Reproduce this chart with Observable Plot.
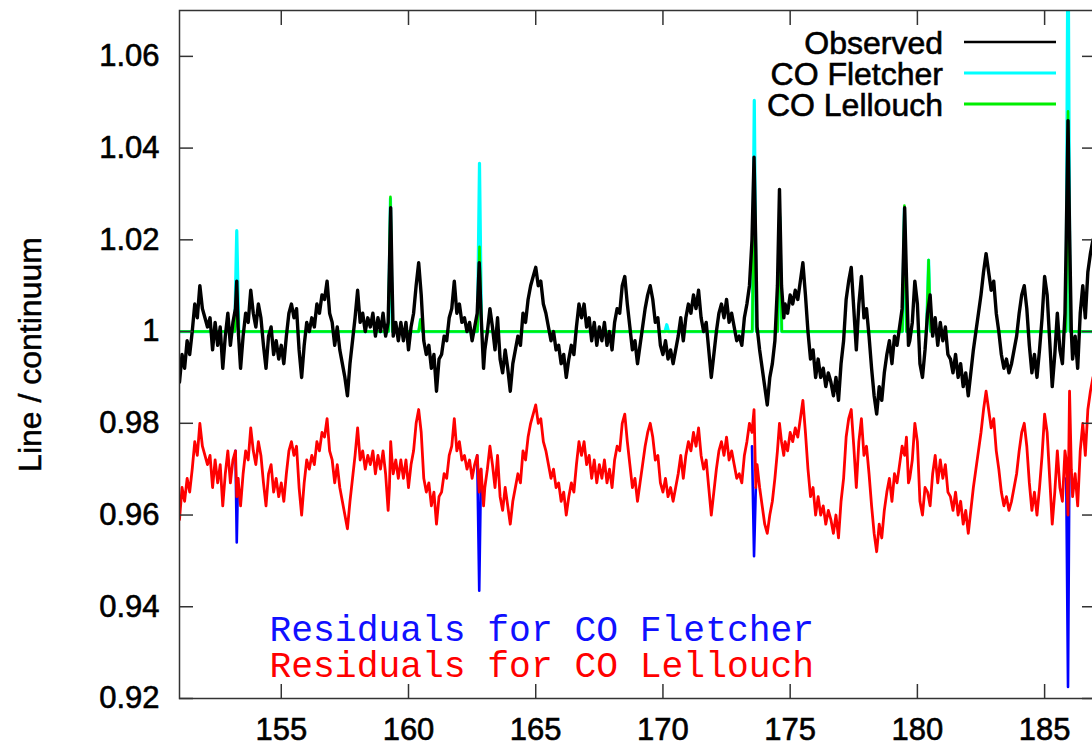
<!DOCTYPE html>
<html>
<head>
<meta charset="utf-8">
<script src="https://cdn.jsdelivr.net/npm/d3@7"></script>
<script src="https://cdn.jsdelivr.net/npm/@observablehq/plot@0.6"></script>
<style>
  body { margin: 0; background: #fff; }
  #chart { width: 1092px; height: 744px; overflow: hidden; }
  #chart g[aria-label$="tick label"] text { stroke: #000; stroke-width: 0.6px; }
</style>
</head>
<body>
<div id="chart"></div>
<script>
// ---- Data (wavenumber, value) ----
const observed = [
[151.0,.989],[151.1,.995],[151.2,.992],[151.3,.998],[151.4,.995],[151.5,1.000],[151.6,1.006],[151.7,1.003],[151.8,1.010],[151.9,1.005],
[152.0,1.003],[152.1,1.001],[152.2,1.003],[152.3,.996],[152.4,1.002],[152.5,.997],[152.6,1.001],[152.7,.992],[152.8,.999],[152.9,1.004],
[153.0,.997],[153.1,1.002],[153.2,1.005],[153.25,1.011],[153.3,1.001],[153.4,.992],[153.5,.999],[153.6,1.004],[153.7,1.002],[153.8,1.009],[153.9,1.004],
[154.0,1.001],[154.1,1.006],[154.2,1.003],[154.3,.997],[154.4,.992],[154.5,.999],[154.6,1.001],[154.7,.995],[154.8,.998],[154.9,.994],
[155.0,.997],[155.1,.993],[155.2,.999],[155.3,1.004],[155.4,1.006],[155.5,1.003],[155.6,1.005],[155.7,.996],[155.8,.990],[155.9,.997],
[156.0,1.002],[156.1,1.000],[156.2,1.003],[156.3,1.001],[156.4,1.006],[156.5,1.004],[156.6,1.008],[156.7,1.007],[156.8,1.011],[156.9,1.004],
[157.0,1.002],[157.1,.997],[157.2,1.001],[157.3,.996],[157.4,.993],[157.5,.990],[157.6,.986],[157.7,.993],[157.8,.998],[157.9,1.003],
[158.0,1.009],[158.1,1.002],[158.2,1.004],[158.3,1.000],[158.4,1.003],[158.5,1.001],[158.6,1.004],[158.7,.999],[158.8,1.003],[158.9,1.000],
[159.0,1.004],[159.1,.999],[159.2,1.002],[159.25,1.014],[159.3,1.027],[159.35,1.012],[159.4,.999],[159.5,1.002],[159.6,.998],[159.7,1.002],[159.8,.998],[159.9,1.002],
[160.0,.996],[160.1,1.001],[160.2,1.004],[160.3,1.010],[160.4,1.015],[160.5,1.008],[160.6,.998],[160.7,.995],[160.8,.997],[160.9,.992],
[161.0,.995],[161.1,.987],[161.2,.994],[161.3,.995],[161.4,.999],[161.5,.998],[161.6,1.003],[161.7,1.005],[161.8,1.011],[161.9,1.004],
[162.0,1.006],[162.1,1.002],[162.2,1.003],[162.3,1.000],[162.4,1.002],[162.5,.998],[162.6,1.001],[162.7,1.004],[162.78,1.015],[162.85,1.004],[162.95,.992],
[163.0,.996],[163.1,1.000],[163.2,1.005],[163.3,1.001],[163.4,.996],[163.5,1.003],[163.6,.994],[163.7,.991],[163.8,.996],[163.9,.992],
[164.0,.987],[164.1,.993],[164.2,.996],[164.3,.999],[164.4,.997],[164.5,1.004],[164.6,1.002],[164.7,1.007],[164.8,1.010],[164.9,1.012],
[165.0,1.014],[165.1,1.010],[165.2,1.011],[165.3,1.006],[165.4,1.004],[165.5,1.001],[165.6,.998],[165.7,1.000],[165.8,.996],[165.9,.997],
[166.0,.993],[166.1,.995],[166.2,.990],[166.3,.994],[166.4,.997],[166.5,.995],[166.6,1.001],[166.7,1.006],[166.8,1.003],[166.9,1.006],
[167.0,1.001],[167.1,1.003],[167.2,.998],[167.3,1.002],[167.4,.997],[167.5,1.001],[167.6,.998],[167.7,1.002],[167.8,.997],[167.9,1.000],
[168.0,.996],[168.1,1.002],[168.2,1.005],[168.3,1.004],[168.4,1.010],[168.5,1.012],[168.6,1.006],[168.7,1.001],[168.8,.996],[168.9,.998],
[169.0,.993],[169.1,.997],[169.2,1.001],[169.3,1.005],[169.4,1.008],[169.5,1.010],[169.6,1.007],[169.7,1.002],[169.8,1.003],[169.9,.997],
[170.0,.995],[170.1,.998],[170.2,.994],[170.3,.996],[170.4,.993],[170.5,.996],[170.6,.999],[170.7,1.003],[170.8,.998],[170.9,1.003],
[171.0,1.006],[171.1,1.004],[171.2,1.008],[171.3,1.005],[171.4,1.009],[171.5,1.003],[171.6,1.000],[171.7,1.002],[171.8,.996],[171.9,.990],
[172.0,.995],[172.1,1.000],[172.2,1.004],[172.3,1.006],[172.4,1.003],[172.5,1.007],[172.6,1.002],[172.7,1.004],[172.8,1.001],[172.9,.998],
[173.0,.999],[173.1,.997],[173.2,1.003],[173.3,1.006],[173.4,1.010],[173.5,1.020],[173.58,1.038],[173.65,1.018],[173.7,1.001],[173.8,.996],[173.9,.992],
[174.0,.988],[174.1,.984],[174.2,.990],[174.3,.993],[174.4,.998],[174.5,1.010],[174.58,1.031],[174.66,1.010],[174.75,1.003],[174.8,1.006],[174.9,1.004],
[175.0,1.008],[175.1,1.006],[175.2,1.009],[175.3,1.007],[175.4,1.011],[175.5,1.015],[175.6,1.008],[175.7,1.000],[175.8,.994],[175.9,.996],
[176.0,.990],[176.1,.994],[176.2,.990],[176.3,.992],[176.4,.988],[176.5,.991],[176.6,.989],[176.7,.986],[176.8,.990],[176.9,.985],
[177.0,.993],[177.1,.998],[177.2,1.007],[177.3,1.011],[177.4,1.014],[177.5,1.005],[177.6,.996],[177.7,1.006],[177.8,1.012],[177.9,1.003],
[178.0,1.005],[178.1,.999],[178.2,.992],[178.3,.986],[178.4,.982],[178.5,.988],[178.6,.985],[178.7,.991],[178.8,.995],[178.9,.998],
[179.0,.993],[179.1,.999],[179.2,.997],[179.3,1.001],[179.4,1.005],[179.5,1.027],[179.57,1.012],[179.65,.997],[179.7,.998],[179.8,1.002],[179.9,1.011],
[180.0,1.006],[180.1,.993],[180.2,.990],[180.3,.996],[180.4,1.004],[180.5,1.008],[180.6,.999],[180.7,1.003],[180.8,.997],[180.9,1.002],
[181.0,.998],[181.1,1.001],[181.2,.995],[181.3,.994],[181.4,.991],[181.5,.995],[181.6,.990],[181.7,.993],[181.8,.988],[181.9,.991],
[182.0,.986],[182.1,.991],[182.2,.996],[182.3,1.000],[182.4,1.004],[182.5,1.008],[182.6,1.013],[182.7,1.017],[182.8,1.013],[182.9,1.009],
[183.0,1.011],[183.1,1.004],[183.2,1.000],[183.3,.995],[183.4,.992],[183.5,.994],[183.6,.991],[183.7,.993],[183.8,.996],[183.9,.999],
[184.0,1.004],[184.1,1.008],[184.2,1.010],[184.3,1.005],[184.4,.997],[184.5,.991],[184.6,.995],[184.7,.990],[184.8,.996],[184.9,1.003],
[185.0,1.012],[185.1,1.008],[185.2,.998],[185.3,.988],[185.4,.995],[185.5,1.004],[185.6,.996],[185.7,.993],[185.8,1.004],[185.85,1.020],[185.92,1.046],[185.98,1.022],
[186.05,1.000],[186.1,.994],[186.2,.999],[186.3,.992],[186.4,1.004],[186.5,1.010],[186.6,1.003],[186.7,1.013],[186.8,1.017],[186.9,1.020],[187.0,1.015]
];

const coFletcher = [
[151.0,1],[153.17,1],[153.25,1.022],[153.33,1],[159.21,1],[159.29,1.029],[159.37,1],[160.40,1],[160.47,1.0026],[160.54,1],
[162.71,1],[162.79,1.0367],[162.87,1],[170.08,1],[170.15,1.0015],[170.22,1],[173.51,1],[173.59,1.0504],[173.67,1],
[174.51,1],[174.59,1.025],[174.67,1],[179.41,1],[179.49,1.027],[179.57,1],[180.36,1],[180.44,1.0156],[180.52,1],
[185.84,1],[185.92,1.09],[186.0,1],[187.0,1]
];

const coLellouch = [
[151.0,1],[153.17,1],[153.25,1.009],[153.33,1],[159.21,1],[159.29,1.0294],[159.37,1],[160.40,1],[160.47,1.0026],[160.54,1],
[162.71,1],[162.79,1.0185],[162.87,1],[173.51,1],[173.59,1.036],[173.67,1],[174.51,1],[174.59,1.026],[174.67,1],
[179.41,1],[179.49,1.0275],[179.57,1],[180.36,1],[180.44,1.0156],[180.52,1],[185.84,1],[185.92,1.048],[186.0,1],[187.0,1]
];

const residualLellouch = [
[151.0,.959],[151.1,.966],[151.2,.963],[151.3,.968],[151.4,.965],[151.5,.970],[151.6,.976],[151.7,.973],[151.8,.980],[151.9,.975],
[152.0,.973],[152.1,.971],[152.2,.973],[152.3,.966],[152.4,.972],[152.5,.967],[152.6,.971],[152.7,.962],[152.8,.969],[152.9,.974],
[153.0,.967],[153.1,.972],[153.2,.974],[153.25,.964],[153.3,.968],[153.4,.962],[153.5,.969],[153.6,.974],[153.7,.972],[153.8,.979],[153.9,.974],
[154.0,.971],[154.1,.976],[154.2,.973],[154.3,.967],[154.4,.962],[154.5,.969],[154.6,.971],[154.7,.965],[154.8,.968],[154.9,.964],
[155.0,.967],[155.1,.963],[155.2,.969],[155.3,.974],[155.4,.976],[155.5,.973],[155.6,.975],[155.7,.966],[155.8,.960],[155.9,.967],
[156.0,.972],[156.1,.970],[156.2,.973],[156.3,.971],[156.4,.976],[156.5,.974],[156.6,.978],[156.7,.977],[156.8,.981],[156.9,.974],
[157.0,.972],[157.1,.967],[157.2,.971],[157.3,.966],[157.4,.963],[157.5,.960],[157.6,.957],[157.7,.963],[157.8,.968],[157.9,.973],
[158.0,.979],[158.1,.972],[158.2,.974],[158.3,.970],[158.4,.973],[158.5,.971],[158.6,.974],[158.7,.969],[158.8,.973],[158.9,.970],
[159.0,.974],[159.1,.969],[159.2,.961],[159.25,.966],[159.3,.976],[159.35,.972],[159.4,.969],[159.5,.972],[159.6,.968],[159.7,.972],[159.8,.968],[159.9,.972],
[160.0,.966],[160.1,.971],[160.2,.974],[160.3,.980],[160.4,.983],[160.5,.978],[160.6,.968],[160.7,.965],[160.8,.967],[160.9,.962],
[161.0,.965],[161.1,.958],[161.2,.964],[161.3,.965],[161.4,.969],[161.5,.968],[161.6,.973],[161.7,.975],[161.8,.981],[161.9,.974],
[162.0,.976],[162.1,.972],[162.2,.973],[162.3,.970],[162.4,.972],[162.5,.968],[162.6,.971],[162.7,.973],[162.78,.965],[162.85,.970],[162.95,.962],
[163.0,.966],[163.1,.970],[163.2,.975],[163.3,.971],[163.4,.966],[163.5,.973],[163.6,.964],[163.7,.961],[163.8,.966],[163.9,.962],
[164.0,.958],[164.1,.963],[164.2,.966],[164.3,.969],[164.4,.967],[164.5,.974],[164.6,.972],[164.7,.977],[164.8,.980],[164.9,.982],
[165.0,.984],[165.1,.980],[165.2,.981],[165.3,.976],[165.4,.974],[165.5,.971],[165.6,.968],[165.7,.970],[165.8,.966],[165.9,.967],
[166.0,.963],[166.1,.965],[166.2,.960],[166.3,.964],[166.4,.967],[166.5,.965],[166.6,.971],[166.7,.976],[166.8,.973],[166.9,.976],
[167.0,.971],[167.1,.973],[167.2,.968],[167.3,.972],[167.4,.967],[167.5,.971],[167.6,.968],[167.7,.972],[167.8,.967],[167.9,.970],
[168.0,.966],[168.1,.972],[168.2,.975],[168.3,.974],[168.4,.980],[168.5,.982],[168.6,.976],[168.7,.971],[168.8,.966],[168.9,.968],
[169.0,.963],[169.1,.967],[169.2,.971],[169.3,.975],[169.4,.978],[169.5,.980],[169.6,.977],[169.7,.972],[169.8,.973],[169.9,.967],
[170.0,.965],[170.1,.968],[170.2,.964],[170.3,.966],[170.4,.963],[170.5,.966],[170.6,.969],[170.7,.973],[170.8,.968],[170.9,.973],
[171.0,.976],[171.1,.974],[171.2,.978],[171.3,.975],[171.4,.979],[171.5,.973],[171.6,.970],[171.7,.972],[171.8,.966],[171.9,.960],
[172.0,.965],[172.1,.970],[172.2,.974],[172.3,.976],[172.4,.973],[172.5,.977],[172.6,.972],[172.7,.974],[172.8,.971],[172.9,.968],
[173.0,.969],[173.1,.967],[173.2,.973],[173.3,.976],[173.4,.980],[173.5,.978],[173.58,.983],[173.65,.966],[173.7,.971],[173.8,.966],[173.9,.962],
[174.0,.958],[174.1,.956],[174.2,.960],[174.3,.963],[174.4,.968],[174.5,.974],[174.58,.980],[174.66,.976],[174.75,.973],[174.8,.976],[174.9,.974],
[175.0,.978],[175.1,.976],[175.2,.979],[175.3,.977],[175.4,.981],[175.5,.985],[175.6,.978],[175.7,.970],[175.8,.964],[175.9,.966],
[176.0,.960],[176.1,.964],[176.2,.960],[176.3,.962],[176.4,.958],[176.5,.961],[176.6,.959],[176.7,.956],[176.8,.960],[176.9,.955],
[177.0,.963],[177.1,.968],[177.2,.977],[177.3,.981],[177.4,.983],[177.5,.975],[177.6,.966],[177.7,.976],[177.8,.981],[177.9,.973],
[178.0,.975],[178.1,.969],[178.2,.962],[178.3,.956],[178.4,.952],[178.5,.958],[178.6,.955],[178.7,.961],[178.8,.965],[178.9,.968],
[179.0,.963],[179.1,.969],[179.2,.967],[179.3,.971],[179.4,.975],[179.5,.973],[179.57,.977],[179.65,.967],[179.7,.968],[179.8,.972],[179.9,.980],
[180.0,.976],[180.1,.963],[180.2,.960],[180.3,.966],[180.4,.965],[180.5,.962],[180.6,.969],[180.7,.973],[180.8,.967],[180.9,.972],
[181.0,.968],[181.1,.971],[181.2,.965],[181.3,.964],[181.4,.961],[181.5,.965],[181.6,.960],[181.7,.963],[181.8,.958],[181.9,.961],
[182.0,.956],[182.1,.961],[182.2,.966],[182.3,.970],[182.4,.974],[182.5,.978],[182.6,.983],[182.7,.987],[182.8,.983],[182.9,.979],
[183.0,.981],[183.1,.974],[183.2,.970],[183.3,.965],[183.4,.962],[183.5,.964],[183.6,.961],[183.7,.963],[183.8,.966],[183.9,.969],
[184.0,.974],[184.1,.978],[184.2,.980],[184.3,.975],[184.4,.967],[184.5,.961],[184.6,.965],[184.7,.960],[184.8,.966],[184.9,.973],
[185.0,.982],[185.1,.978],[185.2,.968],[185.3,.958],[185.4,.965],[185.5,.974],[185.6,.966],[185.7,.963],[185.8,.974],[185.85,.972],[185.92,.960],[185.98,.987],
[186.05,.970],[186.1,.964],[186.2,.969],[186.3,.962],[186.4,.974],[186.5,.980],[186.6,.973],[186.7,.983],[186.8,.987],[186.9,.990],[187.0,.985]
];

// Fletcher residuals: only the parts that differ from the Lellouch residuals are visible
const residualFletcherDips = [
  [[153.2,.974],[153.25,.954],[153.3,.968]],
  [[162.7,.973],[162.78,.9435],[162.85,.970]],
  [[173.5,.975],[173.58,.951],[173.65,.966]],
  [[185.85,.968],[185.92,.9225],[185.98,.975]]
];

const xTicks = [155, 160, 165, 170, 175, 180, 185];
const yTicks = [0.92, 0.94, 0.96, 0.98, 1.00, 1.02, 1.04, 1.06];
const yLabel = "Line / continuum";
const legendLabels = ["Observed", "CO Fletcher", "CO Lellouch"];
const legendColors = ["#000000", "#00ffff", "#00ee00"];
const residualLabels = ["Residuals for CO Fletcher", "Residuals for CO Lellouch"];
const residualColors = ["#1010ff", "#ff0000"];

// ---- Build rows ----
const rows = (pairs) => pairs.map(([x, y]) => ({x, y}));
const blueRows = residualFletcherDips.flatMap((seg, i) => seg.map(([x, y]) => ({x, y, seg: i})));
const fmt = (d) => String(Math.round(d * 100) / 100);
const FONT = "'Liberation Sans', Arial, Helvetica, sans-serif";
const MONO = "'Liberation Mono', 'Courier New', monospace";
const axisStroke = "#333";

const chart = Plot.plot({
  width: 1092,
  height: 744,
  marginLeft: 179,
  marginRight: -3,
  marginTop: 10,
  marginBottom: 46,
  x: {domain: [151, 187], label: null},
  y: {domain: [0.92, 1.07], label: null},
  style: {fontFamily: FONT, background: "#fff", color: "#000"},
  marks: [
    Plot.line(rows(coFletcher), {x: "x", y: "y", stroke: legendColors[1], strokeWidth: 3.2, clip: true}),
    Plot.line(rows(coLellouch), {x: "x", y: "y", stroke: legendColors[2], strokeWidth: 2.6, clip: true}),
    Plot.line(rows(observed), {x: "x", y: "y", stroke: legendColors[0], strokeWidth: 3.4, clip: true}),
    Plot.line(blueRows, {x: "x", y: "y", z: "seg", stroke: "#0000ff", strokeWidth: 2.6, clip: true}),
    Plot.line(rows(residualLellouch), {x: "x", y: "y", stroke: "#ff0000", strokeWidth: 2.8, clip: true}),
    // inward ticks on all four sides
    Plot.axisX({anchor: "bottom", ticks: xTicks, tickSize: 14, dy: -14, fill: "none", stroke: axisStroke, strokeWidth: 1.5, label: null}),
    Plot.axisX({anchor: "top", ticks: xTicks, tickSize: 14, dy: 14, fill: "none", stroke: axisStroke, strokeWidth: 1.5, label: null}),
    Plot.axisY({anchor: "left", ticks: yTicks, tickSize: 14, dx: 14, fill: "none", stroke: axisStroke, strokeWidth: 1.5, label: null}),
    Plot.axisY({anchor: "right", ticks: yTicks, tickSize: 14, dx: -14, fill: "none", stroke: axisStroke, strokeWidth: 1.5, label: null}),
    // tick labels
    Plot.axisX({anchor: "bottom", ticks: xTicks, tickSize: 0, tickPadding: 19, fontSize: 31, fill: "#000", label: null}),
    Plot.axisY({anchor: "left", ticks: yTicks, tickSize: 0, tickPadding: 20, fontSize: 31, fill: "#000", tickFormat: fmt, label: null}),
    Plot.frame({stroke: axisStroke, strokeWidth: 1.5}),
    Plot.text([yLabel], {frameAnchor: "left", dx: -149, rotate: -90, textAnchor: "middle", lineAnchor: "middle", fontSize: 32, fill: "#000", stroke: "#000", strokeWidth: 0.5}),
    Plot.text([residualLabels[0]], {frameAnchor: "bottom-left", dx: 90, dy: -69.5, textAnchor: "start", lineAnchor: "middle", fontSize: 36.3, fontFamily: MONO, fill: residualColors[0]}),
    Plot.text([residualLabels[1]], {frameAnchor: "bottom-left", dx: 90, dy: -33, textAnchor: "start", lineAnchor: "middle", fontSize: 36.3, fontFamily: MONO, fill: residualColors[1]})
  ]
});

document.getElementById("chart").appendChild(chart);

// ---- Legend (key, top right inside the frame) ----
const svg = d3.select(chart);
const key = svg.append("g").attr("font-family", FONT).attr("font-size", 32);
legendLabels.forEach((label, i) => {
  const cy = 42 + i * 31;
  key.append("text").attr("x", 943).attr("y", cy).attr("dy", "0.36em")
    .attr("text-anchor", "end").attr("fill", "#000").attr("stroke", "#000").attr("stroke-width", 0.6).text(label);
  key.append("line").attr("x1", 964).attr("x2", 1056).attr("y1", cy).attr("y2", cy)
    .attr("stroke", legendColors[i]).attr("stroke-width", i === 0 ? 2.5 : 3);
});
</script>
</body>
</html>
